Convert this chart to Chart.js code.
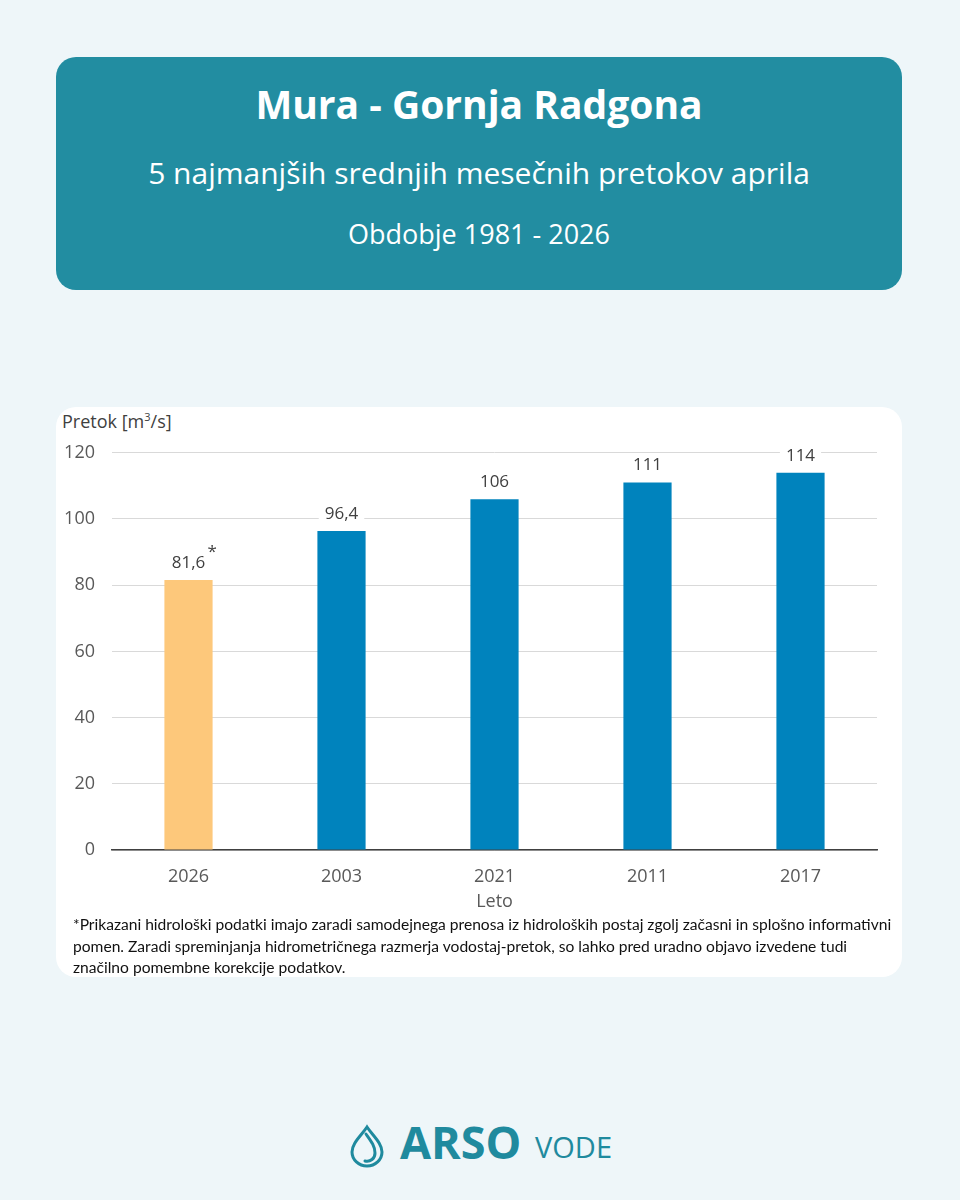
<!DOCTYPE html>
<html>
<head>
<meta charset="utf-8">
<script src="https://cdn.jsdelivr.net/npm/chart.js@4/dist/chart.umd.min.js"></script>
<style>
  html, body { margin: 0; padding: 0; }
  body { width: 960px; height: 1200px; background: #eef6f9; position: relative; overflow: hidden; font-family: "Open Sans", sans-serif; }
  #header { position: absolute; left: 56px; top: 57px; width: 846px; height: 233px; background: #228da1; border-radius: 20px; color: #fff; text-align: center; }
  #t1 { position: absolute; left: 0; right: 0; top: 46px; font-size: 39px; font-weight: 700; line-height: 1; transform: translateY(-50%); }
  #t2 { position: absolute; left: 0; right: 0; top: 116px; font-size: 30px; font-weight: 400; line-height: 1; transform: translateY(-50%); }
  #t3 { position: absolute; left: 0; right: 0; top: 176px; font-size: 27px; font-weight: 400; line-height: 1; transform: translateY(-50%); }
  #card { position: absolute; left: 56px; top: 407px; width: 846px; height: 570px; background: #fff; border-radius: 20px; }
  #ylab { position: absolute; left: 62px; top: 409px; font-size: 18px; color: #404040; }
  #ylab sup { font-size: 11px; }
  #chartwrap { position: absolute; left: 56px; top: 425px; width: 846px; height: 496px; }
  #note { position: absolute; left: 73px; top: 914px; font-family: Lato, sans-serif; font-size: 15.6px; line-height: 21.5px; color: #111; white-space: nowrap; }
  #logo { position: absolute; left: 347px; top: 1120px; height: 50px; width: 280px; color: #1f8a9e; }
  #logo svg { position: absolute; left: 0; top: 4px; }
  #arso { position: absolute; left: 53px; top: -3px; font-size: 45px; font-weight: 700; line-height: 50px; }
  #vode { position: absolute; left: 188px; top: 2px; font-size: 29px; font-weight: 400; line-height: 50px; }
</style>
</head>
<body>
<div id="header">
  <div id="t1">Mura - Gornja Radgona</div>
  <div id="t2">5 najmanjših srednjih mesečnih pretokov aprila</div>
  <div id="t3">Obdobje 1981 - 2026</div>
</div>
<div id="card"></div>
<div id="ylab">Pretok [m<sup>3</sup>/s]</div>
<div id="chartwrap"><canvas id="c" width="846" height="496"></canvas></div>
<div id="note">*Prikazani hidrološki podatki imajo zaradi samodejnega prenosa iz hidroloških postaj zgolj začasni in splošno informativni<br>pomen. Zaradi spreminjanja hidrometričnega razmerja vodostaj-pretok, so lahko pred uradno objavo izvedene tudi<br>značilno pomembne korekcije podatkov.</div>
<div id="logo">
  <svg width="40" height="44" viewBox="0 0 40 44" fill="none" stroke="#1f8a9e" stroke-width="3" stroke-linecap="round">
    <path d="M20 3 C14 12 5 19 5 28 a15 14 0 0 0 30 0 C35 19 26 12 20 3 Z"/>
    <path d="M19 10 C24 17 28 22 28 29 a8 8 0 0 1 -10 8"/>
  </svg>
  <div id="arso">ARSO</div>
  <div id="vode">VODE</div>
</div>
<script>
const categories = ['2026', '2003', '2021', '2011', '2017'];
const flowValues = [81.6, 96.4, 106, 111, 114];
const labelNotes = ['*', '', '', '', ''];
const barColors = ['#fdc87b', '#0083bd', '#0083bd', '#0083bd', '#0083bd'];
const yTicks = [0, 20, 40, 60, 80, 100, 120];

const fmt = v => String(v).replace('.', ',');
const FONT = '"Open Sans", sans-serif';

const valueLabels = {
  id: 'valueLabels',
  afterDatasetsDraw(chart) {
    const ctx = chart.ctx;
    const meta = chart.getDatasetMeta(0);
    ctx.save();
    ctx.font = '17px ' + FONT;
    ctx.textAlign = 'center';
    ctx.textBaseline = 'middle';
    meta.data.forEach((bar, i) => {
      const txt = fmt(flowValues[i]);
      const w = ctx.measureText(txt).width;
      const y = bar.y - 17;
      ctx.fillStyle = '#ffffff';
      ctx.fillRect(bar.x - w / 2 - 6, y - 11, w + 12, 22);
      ctx.fillStyle = '#404040';
      ctx.fillText(txt, bar.x, y);
      if (labelNotes[i]) {
        ctx.fillText(labelNotes[i], bar.x + w / 2 + 7, y - 11);
      }
    });
    ctx.restore();
  }
};

new Chart(document.getElementById('c'), {
  type: 'bar',
  data: {
    labels: categories,
    datasets: [{
      data: flowValues,
      backgroundColor: barColors,
      borderWidth: 0,
      categoryPercentage: 1,
      barPercentage: 0.315
    }]
  },
  options: {
    responsive: false,
    animation: false,
    layout: { padding: { top: 18, right: 25, left: 0, bottom: 0 } },
    plugins: { legend: { display: false }, tooltip: { enabled: false } },
    scales: {
      x: {
        grid: { display: false, drawTicks: false },
        border: { color: '#404040', width: 1.5 },
        ticks: { color: '#595959', font: { size: 18, family: FONT }, padding: 16 },
        title: { display: true, text: 'Leto', color: '#595959', font: { size: 18, family: FONT }, padding: { top: 0, bottom: 8 } },
        afterFit(scale) { scale.height = 71; }
      },
      y: {
        min: 0, max: 120,
        afterBuildTicks(scale) { scale.ticks = yTicks.map(v => ({ value: v })); },
        grid: { color: '#d9d9d9', drawTicks: false, lineWidth: 1 },
        border: { display: false },
        ticks: { color: '#595959', font: { size: 18, family: FONT }, padding: 17 },
        afterFit(scale) { scale.width = 56; }
      }
    }
  },
  plugins: [valueLabels]
});
</script>
</body>
</html>
